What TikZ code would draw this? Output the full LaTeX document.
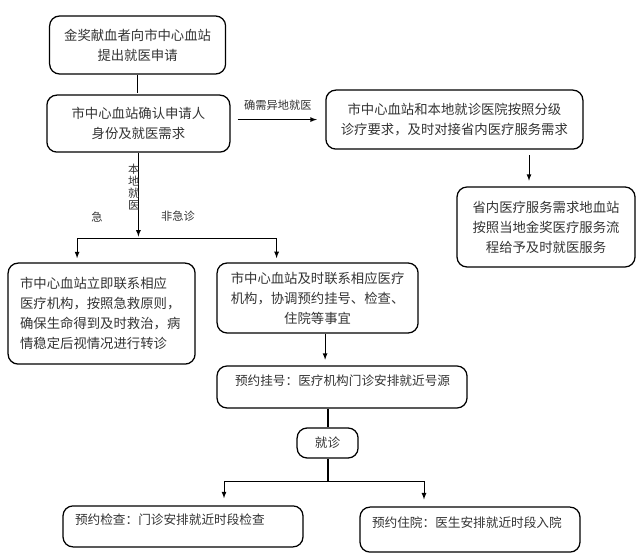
\documentclass[tikz,border=0pt]{standalone}
\usepackage{fontspec}
\setmainfont{Noto Sans CJK SC}
\usetikzlibrary{arrows,positioning,calc}
\definecolor{txtGray}{HTML}{333333}

\begin{document}
\begin{tikzpicture}
[
arr/.style={>=latex, line width=0.6pt, shorten >=1pt},
thickline/.style={line width=1.4pt},
box/.style={draw, rounded corners=0.25cm, line width=0.9pt, align=center, text=txtGray, font=\fontsize{9.5}{14.2}\selectfont},
lbox/.style={box, align=left, inner xsep=0.3cm},
lowtext/.style={text depth=0.35cm, font=\fontsize{9}{13}\selectfont},
lab/.style={text=txtGray, font=\fontsize{8}{8.5}\selectfont, inner sep=1pt},
]
\useasboundingbox (0,0) rectangle (16,13.95);

% Nodes
\node[box,minimum width=4.4cm,minimum height=1.45cm] (apply) at (3.44,12.825) {金奖献血者向市中心血站\\提出就医申请};
\node[box,minimum width=4.575cm,minimum height=1.425cm] (confirm) at (3.46,10.86) {市中心血站确认申请人\\身份及就医需求};
\node[box,minimum width=6.425cm,minimum height=1.475cm] (remote) at (11.36,10.96) {市中心血站和本地就诊医院按照分级\\诊疗要求，及时对接省内医疗服务需求};
\node[box,minimum width=4.45cm,minimum height=2.0cm] (province) at (13.65,8.275) {省内医疗服务需求地血站\\按照当地金奖医疗服务流\\程给予及时就医服务};
\node[lbox,text width=4.075cm,minimum height=2.525cm] (urgent) at (2.54,6.11) {市中心血站立即联系相应\\医疗机构，按照急救原则，\\确保生命得到及时救治，病\\情稳定后视情况进行转诊};
\node[box,minimum width=5.025cm,minimum height=1.75cm] (normal) at (7.94,6.5) {市中心血站及时联系相应医疗\\机构，协调预约挂号、检查、\\住院等事宜};
\node[lbox,lowtext,inner xsep=0.45cm,text width=5.35cm,minimum height=1.05cm] (reg) at (8.55,4.275) {预约挂号：医疗机构门诊安排就近号源};
\node[box,font=\fontsize{9}{13}\selectfont,minimum width=1.525cm,minimum height=0.75cm] (visit) at (8.19,2.875) {就诊};
\node[lbox,lowtext,text width=5.4cm,minimum height=1.025cm] (exam) at (4.575,0.79) {预约检查：门诊安排就近时段检查};
\node[lbox,lowtext,text width=4.9cm,minimum height=1.125cm] (inpat) at (11.75,0.71) {预约住院：医生安排就近时段入院};

\coordinate (fork1) at (3.46,8.0);
\coordinate (fork2) at (8.19,1.925);

\node[lab] (urgLab) at (2.425,8.525) {急};
\node[lab] (normLab) at (4.45,8.55) {非急诊};

% Edges
\draw[arr] (apply.south |- apply.south) -- (apply.south |- confirm.north);
\draw[arr,->] ([xshift=5pt]confirm.east |- remote.west) -- ([xshift=-5pt]remote.west)
  node[midway,above,lab,yshift=5pt] {确需异地就医};
\draw[arr,->] ([xshift=-0.425cm]province.north |- remote.south) ++(0,-4pt) -- ([xshift=-0.425cm,yshift=3pt]province.north);
\draw[arr,->] (confirm.south) -- (fork1)
  node[pos=0.4,left,lab,align=center,inner sep=0pt,xshift=1pt] {本\\地\\就\\医};
\draw[arr,->,shorten >=3pt] (fork1) -| ([xshift=-0.6125cm]urgent.north);
\draw[arr,->,shorten >=3pt] (fork1) -| ([xshift=-1.025cm]normal.north);
\draw[arr,->,shorten >=4pt] ([xshift=0.1875cm]normal.south) -- ([xshift=0.1875cm]normal.south |- reg.north);
\draw[thickline] (visit.north |- reg.south) -- (visit.north);
\draw[thickline] (visit.south) -- (fork2);
\draw[arr,->,shorten >=5pt] (fork2) -| ([xshift=1.025cm]exam.north);
\draw[arr,->,shorten >=5pt] (fork2) -| ([xshift=-1.15cm]inpat.north);

\end{tikzpicture}
\end{document}
